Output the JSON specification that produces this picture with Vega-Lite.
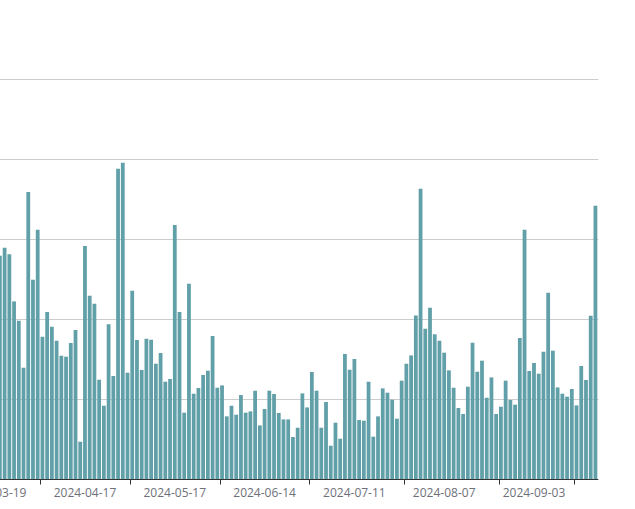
{
  "$schema": "https://vega.github.io/schema/vega-lite/v6.json",
  "width": 598,
  "height": 400,
  "autosize": {"type": "none"},
  "padding": {"left": 0, "top": 79, "right": 37, "bottom": 30},
  "background": "white",
  "config": {"view": {"stroke": null}},
  "data": {
    "values": [
      {"date": "2024-03-19", "value": 270},
      {"date": "2024-03-20", "value": 279.1},
      {"date": "2024-03-21", "value": 289.1},
      {"date": "2024-03-22", "value": 280.8},
      {"date": "2024-03-25", "value": 222},
      {"date": "2024-03-26", "value": 197.9},
      {"date": "2024-03-27", "value": 139.1},
      {"date": "2024-03-28", "value": 358.8},
      {"date": "2024-03-29", "value": 249.1},
      {"date": "2024-04-01", "value": 311.6},
      {"date": "2024-04-02", "value": 177.9},
      {"date": "2024-04-03", "value": 208.8},
      {"date": "2024-04-08", "value": 190.4},
      {"date": "2024-04-09", "value": 172.9},
      {"date": "2024-04-10", "value": 154.1},
      {"date": "2024-04-11", "value": 152.9},
      {"date": "2024-04-12", "value": 170},
      {"date": "2024-04-15", "value": 186.3},
      {"date": "2024-04-16", "value": 46.6},
      {"date": "2024-04-17", "value": 291.3},
      {"date": "2024-04-18", "value": 229.1},
      {"date": "2024-04-19", "value": 219.1},
      {"date": "2024-04-22", "value": 124.1},
      {"date": "2024-04-23", "value": 91.6},
      {"date": "2024-04-24", "value": 193.3},
      {"date": "2024-04-25", "value": 128.8},
      {"date": "2024-04-26", "value": 387.9},
      {"date": "2024-04-29", "value": 395.4},
      {"date": "2024-04-30", "value": 132.9},
      {"date": "2024-05-06", "value": 235.4},
      {"date": "2024-05-07", "value": 173.8},
      {"date": "2024-05-08", "value": 136.3},
      {"date": "2024-05-09", "value": 175.4},
      {"date": "2024-05-10", "value": 174.1},
      {"date": "2024-05-13", "value": 144.1},
      {"date": "2024-05-14", "value": 157.5},
      {"date": "2024-05-15", "value": 121.6},
      {"date": "2024-05-16", "value": 125},
      {"date": "2024-05-17", "value": 317.5},
      {"date": "2024-05-20", "value": 208.8},
      {"date": "2024-05-21", "value": 82.9},
      {"date": "2024-05-22", "value": 244.1},
      {"date": "2024-05-23", "value": 106.6},
      {"date": "2024-05-24", "value": 113.8},
      {"date": "2024-05-27", "value": 130},
      {"date": "2024-05-28", "value": 135.4},
      {"date": "2024-05-29", "value": 178.8},
      {"date": "2024-05-30", "value": 114.1},
      {"date": "2024-05-31", "value": 117},
      {"date": "2024-06-03", "value": 78.3},
      {"date": "2024-06-04", "value": 91.6},
      {"date": "2024-06-05", "value": 80.4},
      {"date": "2024-06-06", "value": 105},
      {"date": "2024-06-07", "value": 82.9},
      {"date": "2024-06-11", "value": 84.5},
      {"date": "2024-06-12", "value": 110.4},
      {"date": "2024-06-13", "value": 67},
      {"date": "2024-06-14", "value": 87.5},
      {"date": "2024-06-17", "value": 110.4},
      {"date": "2024-06-18", "value": 106.3},
      {"date": "2024-06-19", "value": 82.5},
      {"date": "2024-06-20", "value": 74.5},
      {"date": "2024-06-21", "value": 74.5},
      {"date": "2024-06-24", "value": 52.5},
      {"date": "2024-06-25", "value": 64.1},
      {"date": "2024-06-26", "value": 107},
      {"date": "2024-06-27", "value": 89.5},
      {"date": "2024-06-28", "value": 133.8},
      {"date": "2024-07-01", "value": 110.4},
      {"date": "2024-07-02", "value": 64.1},
      {"date": "2024-07-03", "value": 96.3},
      {"date": "2024-07-04", "value": 41.6},
      {"date": "2024-07-05", "value": 70.4},
      {"date": "2024-07-08", "value": 50.4},
      {"date": "2024-07-09", "value": 156.3},
      {"date": "2024-07-10", "value": 136.6},
      {"date": "2024-07-11", "value": 150},
      {"date": "2024-07-12", "value": 73.8},
      {"date": "2024-07-15", "value": 72.9},
      {"date": "2024-07-16", "value": 121.6},
      {"date": "2024-07-17", "value": 52.9},
      {"date": "2024-07-18", "value": 78.3},
      {"date": "2024-07-19", "value": 113.3},
      {"date": "2024-07-22", "value": 107.9},
      {"date": "2024-07-23", "value": 99.1},
      {"date": "2024-07-24", "value": 75.4},
      {"date": "2024-07-25", "value": 122.9},
      {"date": "2024-07-26", "value": 144.1},
      {"date": "2024-07-29", "value": 154.5},
      {"date": "2024-07-30", "value": 204.5},
      {"date": "2024-07-31", "value": 362.9},
      {"date": "2024-08-01", "value": 187.9},
      {"date": "2024-08-02", "value": 214.1},
      {"date": "2024-08-05", "value": 180.8},
      {"date": "2024-08-06", "value": 172.9},
      {"date": "2024-08-07", "value": 157.9},
      {"date": "2024-08-08", "value": 135.8},
      {"date": "2024-08-09", "value": 114.1},
      {"date": "2024-08-12", "value": 88.8},
      {"date": "2024-08-13", "value": 81.3},
      {"date": "2024-08-14", "value": 115.4},
      {"date": "2024-08-15", "value": 170.4},
      {"date": "2024-08-16", "value": 134.1},
      {"date": "2024-08-19", "value": 147.9},
      {"date": "2024-08-20", "value": 101.6},
      {"date": "2024-08-21", "value": 127},
      {"date": "2024-08-22", "value": 81.3},
      {"date": "2024-08-23", "value": 90.4},
      {"date": "2024-08-26", "value": 122.9},
      {"date": "2024-08-27", "value": 98.8},
      {"date": "2024-08-28", "value": 92.9},
      {"date": "2024-08-29", "value": 176.3},
      {"date": "2024-08-30", "value": 311.6},
      {"date": "2024-09-02", "value": 135},
      {"date": "2024-09-03", "value": 145},
      {"date": "2024-09-04", "value": 131.6},
      {"date": "2024-09-05", "value": 159.1},
      {"date": "2024-09-06", "value": 232.9},
      {"date": "2024-09-09", "value": 160.4},
      {"date": "2024-09-10", "value": 114.5},
      {"date": "2024-09-11", "value": 106.6},
      {"date": "2024-09-12", "value": 102.9},
      {"date": "2024-09-13", "value": 112.5},
      {"date": "2024-09-18", "value": 92},
      {"date": "2024-09-19", "value": 141.3},
      {"date": "2024-09-20", "value": 123.8},
      {"date": "2024-09-23", "value": 204.1},
      {"date": "2024-09-24", "value": 341.6}
    ]
  },
  "layer": [
    {
      "mark": {"type": "bar", "color": "#61a0a8"},
      "encoding": {
        "x": {
          "field": "date",
          "type": "ordinal",
          "sort": null,
          "scale": {"range": [-7.2, 597.8], "paddingInner": 0.2, "paddingOuter": 0.1},
          "axis": {
            "title": null,
            "orient": "bottom",
            "values": ["2024-03-19", "2024-04-17", "2024-05-17", "2024-06-14", "2024-07-11", "2024-08-07", "2024-09-03"],
            "labelAngle": 0,
            "ticks": false,
            "tickSize": 0,
            "labelPadding": 8,
            "domain": true,
            "domainColor": "#333333",
            "domainWidth": 1,
            "labelColor": "#6E7079",
            "labelFont": "Open Sans",
            "labelFontSize": 12,
            "grid": false,
            "zindex": 1
          }
        },
        "y": {
          "field": "value",
          "type": "quantitative",
          "scale": {"domain": [0, 500]},
          "axis": {
            "title": null,
            "labels": false,
            "ticks": false,
            "domain": false,
            "grid": true,
            "gridColor": "#cccccc",
            "values": [0, 100, 200, 300, 400, 500]
          }
        }
      }
    },
    {
      "mark": {"type": "bar", "opacity": 0},
      "encoding": {
        "x": {
          "field": "date",
          "type": "ordinal",
          "sort": null,
          "axis": {
            "title": null,
            "orient": "bottom",
            "values": ["2024-04-02", "2024-05-06", "2024-05-31", "2024-06-28", "2024-07-26", "2024-08-23", "2024-09-18"],
            "bandPosition": 0,
            "labels": false,
            "domain": false,
            "ticks": true,
            "tickSize": 5,
            "tickColor": "#333333",
            "grid": false,
            "zindex": 1
          }
        },
        "y": {"field": "value", "type": "quantitative"}
      }
    }
  ],
  "resolve": {"axis": {"x": "independent", "y": "shared"}}
}
